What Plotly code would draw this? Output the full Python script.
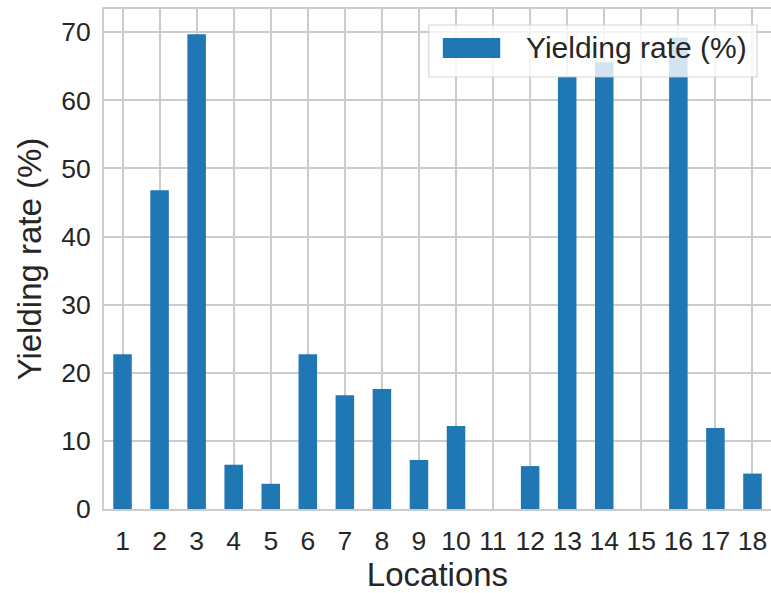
import plotly.graph_objects as go

# ── Data ────────────────────────────────────────────────────────────────────
locations = list(range(1, 19))
yield_rate = [22.7, 46.8, 69.7, 6.5, 3.7, 22.7, 16.7, 17.6, 7.2,
              12.2, 0.0, 6.3, 63.5, 65.6, 0.0, 69.2, 11.9, 5.2]
series_name = "Yielding rate (%)"
y_ticks = [0, 10, 20, 30, 40, 50, 60, 70]

# ── Style ───────────────────────────────────────────────────────────────────
BAR = "#1f77b4"
GRID = "#cccccc"
TEXT = "#262626"
FONT = "Liberation Sans, Arial, sans-serif"

fig = go.Figure()
fig.add_trace(
    go.Bar(
        x=locations,
        y=yield_rate,
        width=0.5,
        name=series_name,
        marker=dict(color=BAR, line=dict(width=0)),
        showlegend=False,
    )
)

axis_common = dict(
    showgrid=True,
    gridcolor=GRID,
    gridwidth=1.6,
    showline=True,
    linecolor=GRID,
    linewidth=1.8,
    mirror=True,
    zeroline=False,
    ticks="",
    tickfont=dict(size=26.5, color=TEXT),
    automargin=False,
)

fig.update_xaxes(
    **axis_common,
    range=[0.5, 18.5],
    tickvals=locations,
    ticklabelstandoff=7,
    title=dict(text="Locations", font=dict(size=33, color=TEXT), standoff=5),
)
fig.update_yaxes(
    **axis_common,
    range=[0, 73.4],
    tickvals=y_ticks,
    ticklabelstandoff=6,
    title=dict(text=series_name, font=dict(size=33, color=TEXT), standoff=10),
)

# legend drawn as a box on top of the bars (matplotlib-like wide swatch)
fig.add_shape(type="rect", xref="paper", yref="paper",
              x0=0.487, x1=0.979, y0=0.864, y1=0.968,
              fillcolor="rgba(255,255,255,0.8)",
              line=dict(color="rgba(204,204,204,0.8)", width=1.2),
              layer="above")
fig.add_shape(type="rect", xref="paper", yref="paper",
              x0=0.508, x1=0.594, y0=0.902, y1=0.942,
              fillcolor=BAR, line=dict(width=0), layer="above")
fig.add_annotation(xref="paper", yref="paper", x=0.629, y=0.922,
                   xanchor="left", yanchor="middle", showarrow=False,
                   text=series_name, font=dict(size=30, color=TEXT))

fig.update_layout(
    width=771,
    height=593,
    margin=dict(l=104, r=0, t=9, b=84),
    paper_bgcolor="white",
    plot_bgcolor="white",
    font=dict(family=FONT, color=TEXT),
    bargap=0.5,
)

fig.write_html("out.html", config={"displayModeBar": False},
               post_script="document.body.style.margin='0';")
